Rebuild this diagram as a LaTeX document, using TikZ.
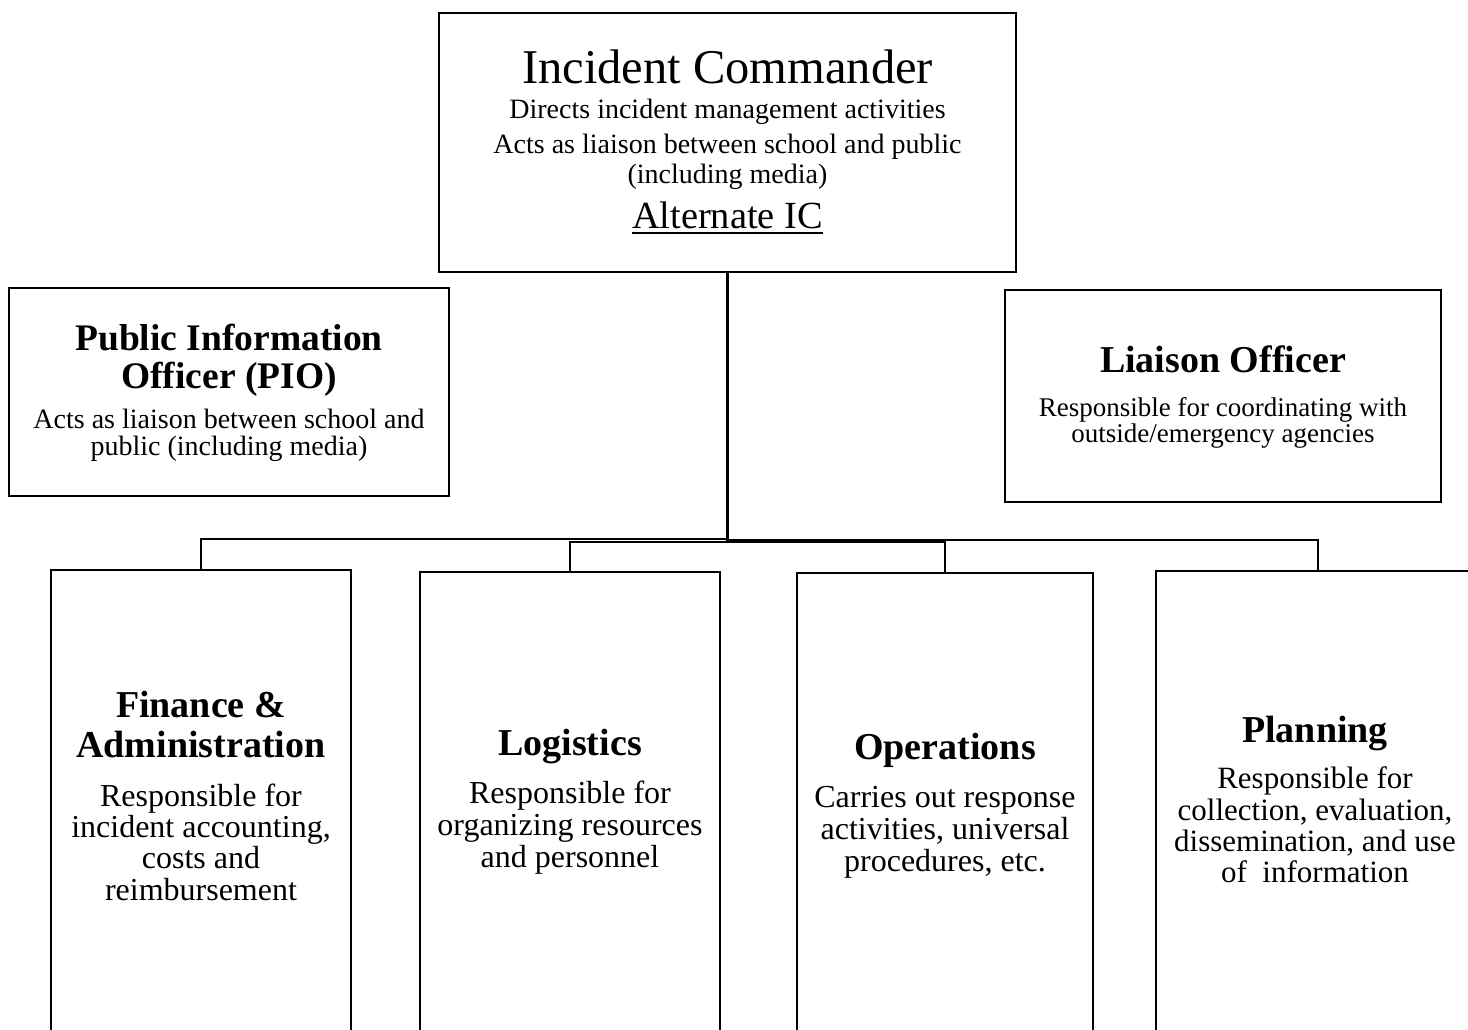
\documentclass[tikz,border=0pt]{standalone}
\usepackage{fontspec}
\setmainfont{Liberation Serif}
\begin{document}
\begin{tikzpicture}[x=1pt,y=-1pt,
  orgbox/.style={draw=black, line width=2.2pt, rectangle, inner sep=0pt, outer sep=0pt},
  txt/.style={inner sep=0pt, outer sep=0pt, anchor=base, text=black},
  link/.style={draw=black, line width=2pt},
  trunk/.style={draw=black, line width=3pt}]
\useasboundingbox (0,0) rectangle (1468,1029);
\clip (0,0) rectangle (1468,1029);
\fill[white] (0,0) rectangle (1468,1029);

% boxes
\node[orgbox, minimum width=577pt, minimum height=259pt] (ic) at (727.5,142.5) {};
\node[orgbox, minimum width=440pt, minimum height=208pt] (pio) at (229,392) {};
\node[orgbox, minimum width=436pt, minimum height=212pt] (lia) at (1223,396) {};
\node[orgbox, minimum width=300pt, minimum height=480pt] (fin) at (201,810) {};
\node[orgbox, minimum width=300pt, minimum height=478pt] (log) at (570,811) {};
\node[orgbox, minimum width=296pt, minimum height=477pt] (ops) at (945,811.5) {};
\node[orgbox, minimum width=324pt, minimum height=479pt] (pla) at (1318,810.5) {};

% connectors
\coordinate (trunkend) at (727.5,542);
\coordinate (ja) at (728,539);
\coordinate (jb) at (757,542);
\coordinate (jc) at (728,540);
\draw[trunk] (ic.south) -- (trunkend);
\draw[link] (fin.north) |- (ja);
\draw[link] (log.north) |- (jb) -| (ops.north);
\draw[link] (jc) -| (pla.north);

% Incident Commander
\node[txt, font=\fontsize{48.5}{52}\selectfont] (ict) at (727.5,83) {Incident Commander};
\node[txt, font=\fontsize{28}{30}\selectfont] (ic1) at (727.5,118) {Directs incident management activities};
\node[txt, font=\fontsize{28}{30}\selectfont] (ic2) at (727.5,153) {Acts as liaison between school and public};
\node[txt, font=\fontsize{28}{30}\selectfont] (ic3) at (727.5,183) {(including media)};
\node[txt, font=\fontsize{38.4}{40}\selectfont] (alt) at (727.5,228) {Alternate IC};
\draw[line width=1.8pt] ([yshift=-5pt]alt.base west) -- ([yshift=-5pt]alt.base east);

% PIO
\node[txt, font=\bfseries\fontsize{37.5}{40}\selectfont] (piot1) at (229,350) {Public Information};
\node[txt, font=\bfseries\fontsize{37.5}{40}\selectfont] (piot2) at (229,388) {Officer (PIO)};
\node[txt, font=\fontsize{28}{30}\selectfont] (pio1) at (229,428) {Acts as liaison between school and};
\node[txt, font=\fontsize{28}{30}\selectfont] (pio2) at (229,455) {public (including media)};

% Liaison
\node[txt, font=\bfseries\fontsize{38}{40}\selectfont] (liat) at (1223,372) {Liaison Officer};
\node[txt, font=\fontsize{27}{29}\selectfont] (lia1) at (1223,416) {Responsible for coordinating with};
\node[txt, font=\fontsize{27}{29}\selectfont] (lia2) at (1223,442) {outside/emergency agencies};

% Finance
\node[txt, font=\bfseries\fontsize{38}{40}\selectfont] (fint1) at (201,717) {Finance \&};
\node[txt, font=\bfseries\fontsize{38}{40}\selectfont] (fint2) at (201,757) {Administration};
\node[txt, font=\fontsize{32}{34}\selectfont] (fin1) at (201,806) {Responsible for};
\node[txt, font=\fontsize{32}{34}\selectfont] (fin2) at (201,837) {incident accounting,};
\node[txt, font=\fontsize{32}{34}\selectfont] (fin3) at (201,868) {costs and};
\node[txt, font=\fontsize{32}{34}\selectfont] (fin4) at (201,900) {reimbursement};

% Logistics
\node[txt, font=\bfseries\fontsize{38}{40}\selectfont] (logt) at (570,755) {Logistics};
\node[txt, font=\fontsize{32}{34}\selectfont] (log1) at (570,803) {Responsible for};
\node[txt, font=\fontsize{32}{34}\selectfont] (log2) at (570,835) {organizing resources};
\node[txt, font=\fontsize{32}{34}\selectfont] (log3) at (570,867) {and personnel};

% Operations
\node[txt, font=\bfseries\fontsize{38}{40}\selectfont] (opst) at (945,759) {Operations};
\node[txt, font=\fontsize{32}{34}\selectfont] (ops1) at (945,807) {Carries out response};
\node[txt, font=\fontsize{32}{34}\selectfont] (ops2) at (945,839) {activities, universal};
\node[txt, font=\fontsize{32}{34}\selectfont] (ops3) at (945,871) {procedures, etc.};

% Planning
\node[txt, font=\bfseries\fontsize{38}{40}\selectfont] (plat) at (1315,742) {Planning};
\node[txt, font=\fontsize{31}{33}\selectfont] (pla1) at (1315,788) {Responsible for};
\node[txt, font=\fontsize{31}{33}\selectfont] (pla2) at (1315,820) {collection, evaluation,};
\node[txt, font=\fontsize{31}{33}\selectfont] (pla3) at (1315,851) {dissemination, and use};
\node[txt, font=\fontsize{31}{33}\selectfont] (pla4) at (1315,882) {of\ \ information};
\end{tikzpicture}
\end{document}
